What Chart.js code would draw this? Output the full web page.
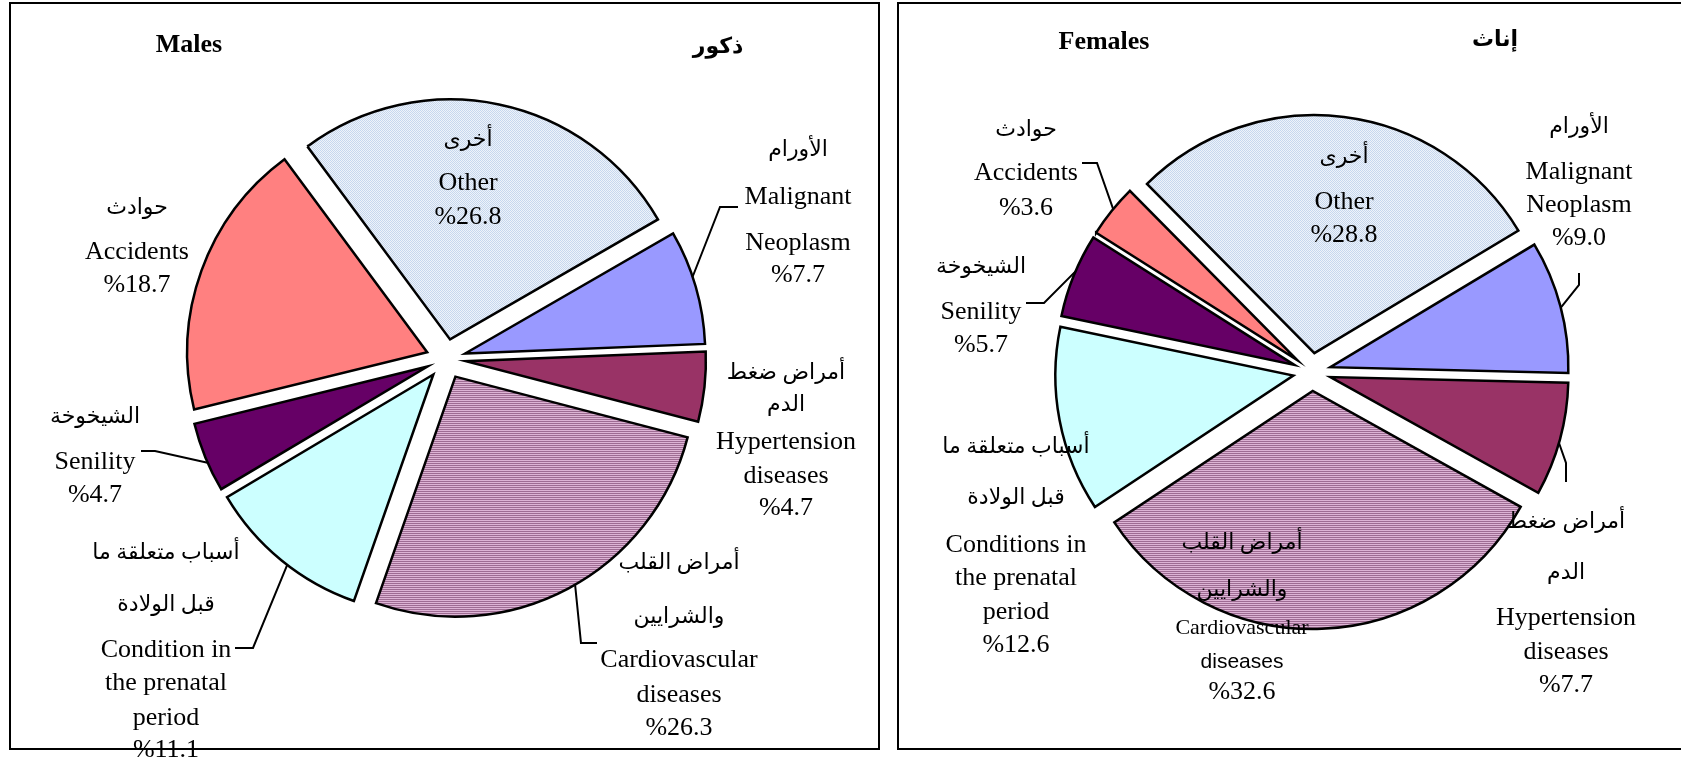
<!DOCTYPE html>
<html>
<head>
<meta charset="utf-8">
<script src="https://cdn.jsdelivr.net/npm/chart.js@4.4.0/dist/chart.umd.min.js"></script>
<style>
    html, body { margin: 0; padding: 0; background: #fff; }
    #page { position: relative; width: 1681px; height: 763px; overflow: hidden; }
    .box { position: absolute; border: 2px solid #000; box-sizing: border-box; }
    #boxMales { left: 9px; top: 2px; width: 871px; height: 748px; }
    #boxFemales { left: 897px; top: 2px; width: 900px; height: 748px; }
    canvas { position: absolute; left: 0; top: 0; }
</style>
</head>
<body>
<div id="page">
    <div class="box" id="boxMales"></div>
    <div class="box" id="boxFemales"></div>
    <canvas id="malesChart" width="1681" height="763"></canvas>
    <canvas id="femalesChart" width="1681" height="763"></canvas>
</div>
<script>
// ===== Data =====
const categories = ['Malignant Neoplasm', 'Hypertension diseases', 'Cardiovascular diseases',
    'Conditions in the prenatal period', 'Senility', 'Accidents', 'Other'];
const malesPct = [7.7, 4.7, 26.3, 11.1, 4.7, 18.7, 26.8];
const femalesPct = [9.0, 7.7, 32.6, 12.6, 5.7, 3.6, 28.8];

// label text, line by line (arabic lines, english lines)
const malesLabelText = [
    [['الأورام'], ['Malignant', 'Neoplasm']],
    [['أمراض ضغط', 'الدم'], ['Hypertension', 'diseases']],
    [['أمراض القلب', 'والشرايين'], ['Cardiovascular', 'diseases']],
    [['أسباب متعلقة ما', 'قبل الولادة'], ['Condition in', 'the prenatal', 'period']],
    [['الشيخوخة'], ['Senility']],
    [['حوادث'], ['Accidents']],
    [['أخرى'], ['Other']]
];
const femalesLabelText = [
    [['الأورام'], ['Malignant', 'Neoplasm']],
    [['أمراض ضغط', 'الدم'], ['Hypertension', 'diseases']],
    [['أمراض القلب', 'والشرايين'], ['Cardiovascular', 'diseases']],
    [['أسباب متعلقة ما', 'قبل الولادة'], ['Conditions in', 'the prenatal', 'period']],
    [['الشيخوخة'], ['Senility']],
    [['حوادث'], ['Accidents']],
    [['أخرى'], ['Other']]
];

// ===== Styling =====
const FONT_EN = '26px "Liberation Serif", "Times New Roman", serif';
const FONT_AR = '22px "Liberation Serif", "DejaVu Sans", serif';
const FONT_TITLE_EN = 'bold 26px "Liberation Serif", serif';
const FONT_TITLE_AR = 'bold 22px "Liberation Serif", "DejaVu Sans", serif';

function stripePattern() {
    const c = document.createElement('canvas');
    c.width = 4; c.height = 2;
    const g = c.getContext('2d');
    g.fillStyle = '#DDB4D5'; g.fillRect(0, 0, 4, 2);
    g.fillStyle = '#9E6C93'; g.fillRect(0, 1, 4, 1);
    return g.createPattern(c, 'repeat');
}
function dotPattern() {
    const c = document.createElement('canvas');
    c.width = 2; c.height = 2;
    const g = c.getContext('2d');
    g.fillStyle = '#EEF3FA'; g.fillRect(0, 0, 2, 2);
    g.fillStyle = '#C6D7EE'; g.fillRect(0, 0, 1, 1); g.fillRect(1, 1, 1, 1);
    return g.createPattern(c, 'repeat');
}
const sliceColors = ['#9999FF', '#993366', stripePattern(), '#CCFFFF', '#660066', '#FF8080', dotPattern()];

// label placement relative to the pie centre: x offset, y offset of every line
const malesLayout = [
    { dx: 352, ys: [-209, -162, -116, -84], leader: { pts: [[292, -152], [274, -152]], at: 0.41 } },
    { dx: 340, ys: [14, 46, 83, 117, 149] },
    { dx: 233, ys: [204, 258, 301, 336, 369], leader: { pts: [[151, 284], [135, 284]], at: 0.48 } },
    { dx: -280, ys: [194, 246, 291, 324, 359, 391], leader: { pts: [[-211, 289], [-193, 289]], at: 0.455 } },
    { dx: -351, ys: [58, 103, 136], leader: { pts: [[-305, 92], [-291, 92]], at: 0.42 } },
    { dx: -309, ys: [-151, -107, -74] },
    { dx: 22, ys: [-219, -176, -142] }
];
const femalesLayout = [
    { dx: 267, ys: [-245, -200, -167, -134], leader: { pts: [[267, -99], [267, -87]], at: 0.51 } },
    { dx: 254, ys: [150, 201, 246, 280, 313], leader: { pts: [[254, 110], [254, 91]], at: 0.53 } },
    { dx: -70, ys: [171, 218, 256, 290, 320],
      fonts: [null, null, '22px "Liberation Serif", serif', '21px "Liberation Sans", Arial, sans-serif', null] },
    { dx: -296, ys: [75, 126, 173, 206, 240, 273] },
    { dx: -331, ys: [-105, -60, -27], leader: { pts: [[-286, -69], [-268, -69]], at: 0.55 } },
    { dx: -286, ys: [-242, -199, -164], leader: { pts: [[-230, -209], [-215, -209]], at: 0.54 } },
    { dx: 32, ys: [-215, -170, -137] }
];

// push every slice out along its own middle angle (Excel style explosion)
function explodePlugin(dist) {
    return {
        id: 'explode',
        afterUpdate(chart) {
            chart.getDatasetMeta(0).data.forEach(arc => {
                const mid = (arc.startAngle + arc.endAngle) / 2;
                arc.x += Math.cos(mid) * dist;
                arc.y += Math.sin(mid) * dist;
            });
        }
    };
}

function labelPlugin(values, texts, layout, titles) {
    return {
        id: 'sliceLabels',
        afterDraw(chart) {
            const ctx = chart.ctx;
            const area = chart.chartArea;
            const cx = (area.left + area.right) / 2;
            const cy = (area.top + area.bottom) / 2;
            const arcs = chart.getDatasetMeta(0).data;
            ctx.save();
            ctx.fillStyle = '#000';
            ctx.strokeStyle = '#000';
            ctx.textAlign = 'center';
            ctx.textBaseline = 'middle';
            ctx.direction = 'ltr';

            titles.forEach(t => {
                ctx.font = t.font;
                ctx.fillText(t.text, cx + t.dx, cy + t.dy);
            });

            layout.forEach((lay, i) => {
                const [ar, en] = texts[i];
                const lines = ar.map(s => [s, FONT_AR])
                    .concat(en.map(s => [s, FONT_EN]))
                    .concat([['%' + values[i].toFixed(1), FONT_EN]]);
                lines.forEach(([s, f], k) => {
                    ctx.font = (lay.fonts && lay.fonts[k]) || f;
                    ctx.fillText(s, cx + lay.dx, cy + lay.ys[k]);
                });
                if (lay.leader) {
                    const el = arcs[i];
                    const a = el.startAngle + lay.leader.at * (el.endAngle - el.startAngle);
                    ctx.lineWidth = 2;
                    ctx.beginPath();
                    lay.leader.pts.forEach(([x, y], k) => {
                        if (k === 0) ctx.moveTo(cx + x, cy + y);
                        else ctx.lineTo(cx + x, cy + y);
                    });
                    ctx.lineTo(el.x + Math.cos(a) * el.outerRadius, el.y + Math.sin(a) * el.outerRadius);
                    ctx.stroke();
                }
            });
            ctx.restore();
        }
    };
}

function makePie(id, values, texts, layout, cfg) {
    return new Chart(document.getElementById(id), {
        type: 'pie',
        data: {
            labels: categories,
            datasets: [{
                data: values,
                backgroundColor: sliceColors,
                borderColor: '#000',
                borderWidth: 2.5,
                borderJoinStyle: 'miter',
                radius: cfg.radius
            }]
        },
        options: {
            responsive: false,
            animation: false,
            events: [],
            rotation: cfg.rotation,
            layout: { padding: cfg.padding },
            plugins: {
                legend: { display: false },
                tooltip: { enabled: false }
            }
        },
        plugins: [explodePlugin(cfg.explode), labelPlugin(values, texts, layout, cfg.titles)]
    });
}

// Males: centre (446, 359)
makePie('malesChart', malesPct, malesLabelText, malesLayout, {
    radius: 240, rotation: 60, explode: 20,
    padding: { left: 0, top: 0, right: 789, bottom: 45 },
    titles: [
        { text: 'Males', dx: -257, dy: -314, font: FONT_TITLE_EN },
        { text: 'ذكور', dx: 272, dy: -312, font: FONT_TITLE_AR }
    ]
});

// Females: centre (1312, 372)
makePie('femalesChart', femalesPct, femalesLabelText, femalesLayout, {
    radius: 238, rotation: 59, explode: 19,
    padding: { left: 943, top: 0, right: 0, bottom: 19 },
    titles: [
        { text: 'Females', dx: -208, dy: -330, font: FONT_TITLE_EN },
        { text: 'إناث', dx: 183, dy: -332, font: FONT_TITLE_AR }
    ]
});
</script>
</body>
</html>
